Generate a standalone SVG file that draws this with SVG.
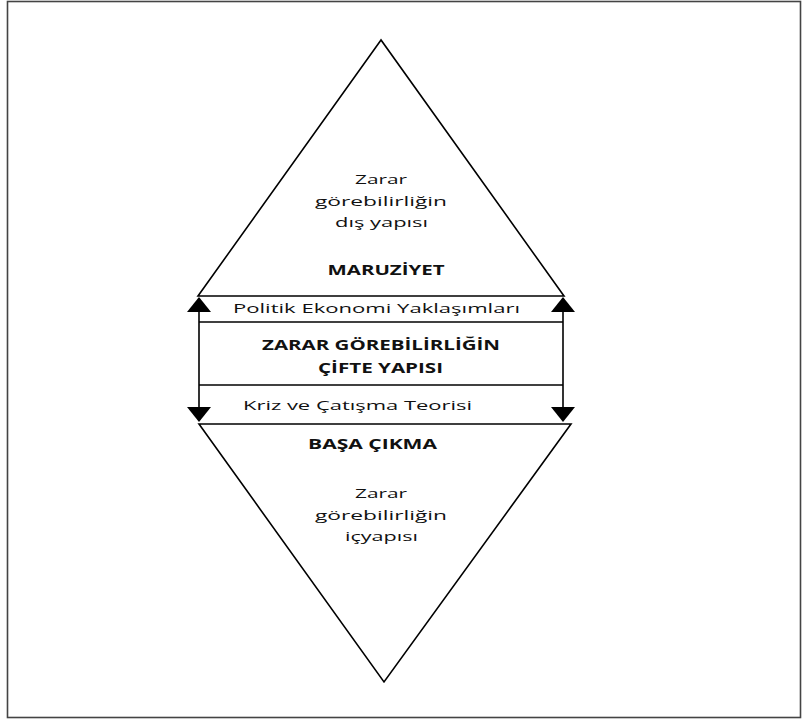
<svg xmlns="http://www.w3.org/2000/svg" width="808" height="720" viewBox="0 0 808 720">
<defs>
<style>
.ln{stroke:#000;stroke-width:1.6;fill:none}
.t{font-family:"Open Sans","DejaVu Sans",sans-serif;font-size:13.5px;fill:#111;text-anchor:middle}
.b{font-weight:bold}
.ah{fill:#000}
</style>
</defs>
<rect x="0" y="0" width="808" height="720" fill="#fff"/>
<rect id="frame" x="7.5" y="1.5" width="793" height="716" fill="none" stroke="#444" stroke-width="1.6"/>
<g id="top-triangle">
<polygon class="ln" points="381,40 198,296 564,296"/>
<text class="t" x="381" y="184" textLength="52" lengthAdjust="spacingAndGlyphs">Zarar</text>
<text class="t" x="381" y="206" textLength="132" lengthAdjust="spacingAndGlyphs">görebilirliğin</text>
<text class="t" x="381.5" y="227" textLength="93" lengthAdjust="spacingAndGlyphs">dış yapısı</text>
<text class="t b" x="386" y="275" textLength="117" lengthAdjust="spacingAndGlyphs">MARUZİYET</text>
</g>
<g id="middle">
<line class="ln" x1="199" y1="322" x2="563" y2="322"/>
<line class="ln" x1="199" y1="385" x2="563" y2="385"/>
<text class="t" x="376.5" y="313" textLength="287" lengthAdjust="spacingAndGlyphs">Politik Ekonomi Yaklaşımları</text>
<text class="t b" x="381" y="350" textLength="238" lengthAdjust="spacingAndGlyphs">ZARAR GÖREBİLİRLİĞİN</text>
<text class="t b" x="380.5" y="373" textLength="125" lengthAdjust="spacingAndGlyphs">ÇİFTE YAPISI</text>
<text class="t" x="357.5" y="410" textLength="229" lengthAdjust="spacingAndGlyphs">Kriz ve Çatışma Teorisi</text>
</g>
<g id="bottom-triangle">
<polygon class="ln" points="199,424 571,424 384,682"/>
<text class="t b" x="372.5" y="449" textLength="129" lengthAdjust="spacingAndGlyphs">BAŞA ÇIKMA</text>
<text class="t" x="381" y="498" textLength="52" lengthAdjust="spacingAndGlyphs">Zarar</text>
<text class="t" x="381" y="520" textLength="132" lengthAdjust="spacingAndGlyphs">görebilirliğin</text>
<text class="t" x="381.5" y="541" textLength="73" lengthAdjust="spacingAndGlyphs">içyapısı</text>
</g>
<g id="connectors">
<line class="ln" x1="199" y1="308" x2="199" y2="410"/>
<line class="ln" x1="563" y1="308" x2="563" y2="410"/>
<polygon class="ah" points="199,297 187,312 211,312"/>
<polygon class="ah" points="563,297 551,312 575,312"/>
<polygon class="ah" points="199,422 187,407 211,407"/>
<polygon class="ah" points="563,422 551,407 575,407"/>
</g>
</svg>
